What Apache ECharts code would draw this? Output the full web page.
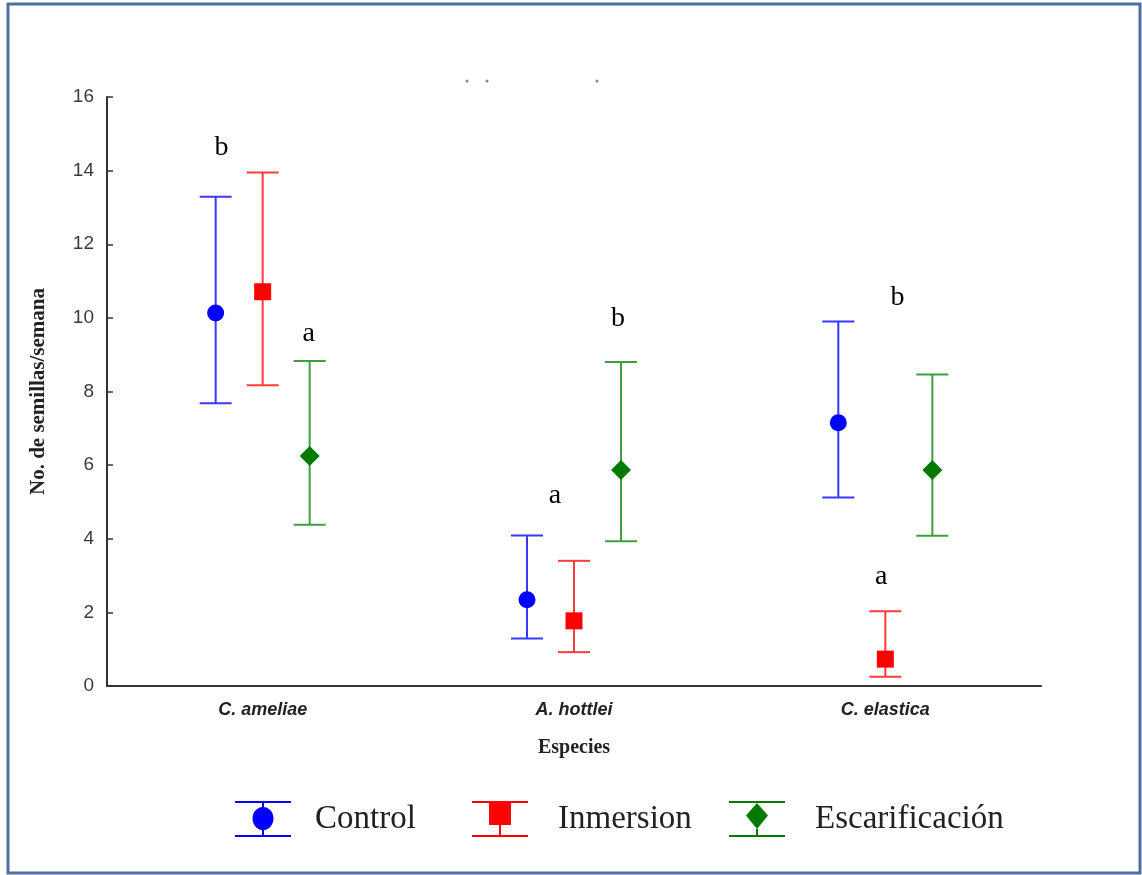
<!DOCTYPE html>
<html><head><meta charset="utf-8">
<script src="https://cdn.jsdelivr.net/npm/echarts@6/dist/echarts.min.js"></script>
<style>html,body{margin:0;padding:0;background:#fff}#c{width:1142px;height:875px}</style>
</head><body><div id="c"></div>
<script>
// ---- data ----
const categories = ['C. ameliae', 'A. hottlei', 'C. elastica'];
const seriesNames = ['Control', 'Inmersion', 'Escarificación'];
const controlMean = [10.13, 2.34, 7.15];
const controlLow  = [7.68, 1.29, 5.12];
const controlHigh = [13.29, 4.09, 9.90];
const inmersionMean = [10.71, 1.77, 0.73];
const inmersionLow  = [8.17, 0.92, 0.25];
const inmersionHigh = [13.95, 3.40, 2.03];
const escarMean = [6.25, 5.87, 5.87];
const escarLow  = [4.38, 3.93, 4.08];
const escarHigh = [8.83, 8.80, 8.46];
const letterCategory = [0, 0, 1, 1, 2, 2];
const letterValue = [14.38, 9.33, 4.93, 9.73, 10.30, 2.73];
const letterText = ['b', 'a', 'a', 'b', 'b', 'a'];
const yMin = 0, yMax = 16, yInterval = 2;

// ---- styling ----
const letterShift = [-0.132, 0.148, -0.061, 0.141, 0.039, -0.013]; // fraction of category band
const lineColors = ['#3838ff', '#ff3c3c', '#3f9f3f'];
const fillColors = ['#0000ff', '#ff0000', '#007a00'];
const shapes = ['circle', 'square', 'diamond'];

function rows(mean, low, high) {
  return mean.map((m, i) => [i, m, low[i], high[i]]);
}
const seriesData = [
  rows(controlMean, controlLow, controlHigh),
  rows(inmersionMean, inmersionLow, inmersionHigh),
  rows(escarMean, escarLow, escarHigh)
];

function makeRender(slot) {
  return function (params, api) {
    const cat = api.value(0);
    const band = api.size([1, 0])[0];
    const dx = (slot - 1) * band * 0.151;
    const pM = api.coord([cat, api.value(1)]);
    const pL = api.coord([cat, api.value(2)]);
    const pH = api.coord([cat, api.value(3)]);
    const x = pM[0] + dx, y = pM[1];
    const hw = 16;
    const ls = { stroke: lineColors[slot], lineWidth: 2 };
    const children = [
      { type: 'line', shape: { x1: x, y1: pH[1], x2: x, y2: pL[1] }, style: ls },
      { type: 'line', shape: { x1: x - hw, y1: pH[1], x2: x + hw, y2: pH[1] }, style: ls },
      { type: 'line', shape: { x1: x - hw, y1: pL[1], x2: x + hw, y2: pL[1] }, style: ls }
    ];
    const fs = { fill: fillColors[slot] };
    if (shapes[slot] === 'circle') {
      children.push({ type: 'circle', shape: { cx: x, cy: y, r: 8.5 }, style: fs });
    } else if (shapes[slot] === 'square') {
      children.push({ type: 'rect', shape: { x: x - 8.5, y: y - 8.5, width: 17, height: 17 }, style: fs });
    } else {
      const d = 10;
      children.push({ type: 'polygon', shape: { points: [[x, y - d], [x + d, y], [x, y + d], [x - d, y]] }, style: fs });
    }
    return { type: 'group', children };
  };
}

const icons = [
  'path://M0,0H56V2H0Z M0,34H56V36H0Z M27,2H29V6H27Z M27,29H29V34H27Z M17.5,17.5A10.5,11.5,0,1,1,38.5,17.5A10.5,11.5,0,1,1,17.5,17.5Z',
  'path://M0,0H56V2H0Z M0,34H56V36H0Z M17,2H39V24H17Z M27,24H29V34H27Z',
  'path://M0,0H56V2H0Z M0,34H56V36H0Z M28,2L39,14.5L28,28L17,14.5Z M27,28H29V34H27Z'
];
const legendLefts = [230, 467, 724];
const legendTextPad = [19, 25, 25];

const series = seriesNames.map((name, i) => ({
  name: name,
  type: 'custom',
  renderItem: makeRender(i),
  itemStyle: { color: fillColors[i] },
  encode: { x: 0, y: [1, 2, 3] },
  data: seriesData[i],
  z: 3
}));

series.push({
  type: 'custom',
  name: 'letters',
  renderItem: function (params, api) {
    const idx = params.dataIndex;
    const band = api.size([1, 0])[0];
    const p = api.coord([api.value(0), api.value(1)]);
    return {
      type: 'text',
      x: p[0] + letterShift[idx] * band,
      y: p[1] - 9,
      style: {
        text: letterText[idx],
        fontFamily: '"Liberation Serif", "Times New Roman", serif',
        fontSize: 28,
        fill: '#000',
        align: 'center',
        verticalAlign: 'middle'
      }
    };
  },
  encode: { x: 0, y: 1 },
  data: letterCategory.map((c, i) => [c, letterValue[i]]),
  z: 4
});

const chart = echarts.init(document.getElementById('c'), null, { renderer: 'canvas' });
chart.setOption({
  animation: false,
  backgroundColor: '#fff',
  grid: { left: 107, right: 101, top: 97, bottom: 189 },
  xAxis: {
    type: 'category',
    data: categories,
    boundaryGap: true,
    axisLine: { lineStyle: { color: '#333', width: 2 } },
    axisTick: { inside: true, alignWithLabel: true, length: 5, lineStyle: { color: '#333', width: 1.5 } },
    axisLabel: {
      margin: 15, fontFamily: '"Liberation Sans", Arial, sans-serif', fontSize: 18,
      fontWeight: 'bold', fontStyle: 'italic', color: '#222'
    },
    name: 'Especies',
    nameLocation: 'middle',
    nameGap: 52,
    nameTextStyle: { fontFamily: '"Liberation Serif", "Times New Roman", serif', fontSize: 20, fontWeight: 'bold', color: '#222' }
  },
  yAxis: {
    type: 'value',
    min: yMin, max: yMax, interval: yInterval,
    splitLine: { show: false },
    axisLine: { show: true, lineStyle: { color: '#333', width: 2 } },
    axisTick: { show: true, inside: true, length: 6, lineStyle: { color: '#333', width: 1.5 } },
    axisLabel: { margin: 13, fontFamily: '"Liberation Sans", Arial, sans-serif', fontSize: 19, color: '#3a3a3a' },
    name: 'No. de semillas/semana',
    nameLocation: 'middle',
    nameGap: 58,
    nameTextStyle: { fontFamily: '"Liberation Serif", "Times New Roman", serif', fontSize: 21, fontWeight: 'bold', color: '#222' }
  },
  legend: seriesNames.map((n, i) => ({
    left: legendLefts[i], top: 796,
    orient: 'horizontal',
    selectedMode: false,
    itemWidth: 56, itemHeight: 36,
    textStyle: { fontFamily: '"Liberation Serif", "Times New Roman", serif', fontSize: 33, color: '#222', padding: [0, 0, 0, legendTextPad[i]] },
    data: [{ name: n, icon: icons[i] }]
  })),
  graphic: [
    { type: 'rect', silent: true, z: -1, shape: { x: 8, y: 4, width: 1132, height: 869 }, style: { fill: 'none', stroke: '#4f6f9f', lineWidth: 3 } },
    { type: 'circle', silent: true, shape: { cx: 467, cy: 81, r: 1.5 }, style: { fill: '#888' } },
    { type: 'circle', silent: true, shape: { cx: 487, cy: 81, r: 1.5 }, style: { fill: '#888' } },
    { type: 'circle', silent: true, shape: { cx: 597, cy: 81, r: 1.5 }, style: { fill: '#888' } }
  ],
  series: series
});
</script>
</body></html>
